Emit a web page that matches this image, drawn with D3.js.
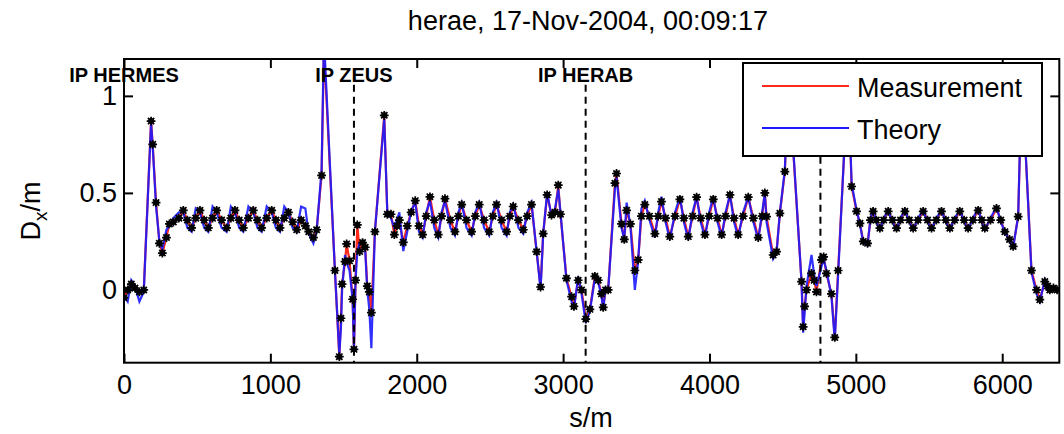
<!DOCTYPE html>
<html>
<head>
<meta charset="utf-8">
<script src="https://cdn.jsdelivr.net/npm/d3@7"></script>
<style>
  html, body { margin: 0; padding: 0; background: #fff; }
  svg { display: block; }
  text { font-family: "Liberation Sans", Arial, Helvetica, sans-serif; fill: #000; }
</style>
</head>
<body>
<svg id="chart" width="1064" height="434"></svg>
<script>
// ---------------- data ----------------
const titleText = "herae, 17-Nov-2004, 00:09:17";
const xTicks = [0, 1000, 2000, 3000, 4000, 5000, 6000];
const yTicks = [0, 0.5, 1];
const yTickLabels = ["0", "0.5", "1"];
const seriesNames = ["Measurement", "Theory"];
const ipNames = ["IP HERMES", "IP ZEUS", "IP HERAB"];
const ipLabelPos = [0, 1571, 3154];
const ipDashed = [1571, 3154, 4758];

const sPos = [
  0, 25, 50, 75, 105, 135,
  185, 196, 219, 242, 262, 290, 310, 337,
  375, 405, 433, 462, 490, 519, 548, 576, 605, 633, 667, 701, 730, 758, 787, 815, 850, 883, 912, 940, 975, 1009, 1038, 1066, 1095, 1123, 1152, 1180, 1210, 1239, 1262, 1294, 1316,
  1350, 1366, 1441, 1471, 1482, 1490, 1510, 1521, 1541, 1562, 1571, 1582, 1594, 1610, 1630, 1648, 1662, 1676, 1690, 1714, 1778,
  1799, 1824, 1847, 1865, 1881, 1908, 1935, 1962, 1990, 2015, 2040, 2065, 2090, 2120, 2147, 2170, 2193, 2230, 2261, 2285, 2307, 2340, 2375, 2400, 2427, 2460, 2495, 2520, 2545, 2580, 2614, 2636, 2659, 2695, 2728, 2755, 2784,
  2819, 2846, 2864, 2891, 2921, 2945, 2967, 2982, 3023, 3058, 3074, 3103, 3126, 3155, 3183, 3217, 3240, 3262, 3274, 3290, 3308, 3354, 3365,
  3399, 3418, 3434, 3460, 3490, 3513, 3535, 3558, 3590, 3627, 3650, 3672, 3700, 3729, 3765, 3798, 3825, 3855, 3885, 3912, 3940, 3969, 3998, 4026, 4055, 4083, 4110, 4140, 4168, 4196, 4230, 4265, 4300, 4333, 4360, 4378, 4390, 4435, 4458, 4481, 4515, 4540,
  4629, 4640, 4650, 4663, 4697, 4715, 4731, 4765, 4780, 4799, 4833, 4856, 4879, 4947, 4971, 5005, 5028, 5051, 5080,
  5100, 5118, 5140, 5164, 5190, 5221, 5250, 5278, 5305, 5335, 5365, 5392, 5425, 5460, 5490, 5517, 5550, 5585, 5615, 5642, 5675, 5710, 5740, 5767, 5800, 5836, 5860, 5881, 5920, 5961, 5990, 6018, 6050, 6075, 6109, 6134,
  6200, 6235, 6257, 6291, 6310, 6325, 6350, 6375
];

const measured = [
  -0.04, 0.00, 0.03, 0.01, -0.01, 0.00,
  0.87, 0.75, 0.45, 0.24, 0.19, 0.27, 0.34, 0.35,
  0.37, 0.41, 0.36, 0.32, 0.37, 0.41, 0.36, 0.32, 0.37, 0.41, 0.36, 0.32, 0.37, 0.41, 0.36, 0.32, 0.37, 0.41, 0.36, 0.32, 0.37, 0.41, 0.36, 0.32, 0.37, 0.40, 0.35, 0.31, 0.36, 0.33, 0.30, 0.27, 0.31,
  0.59, 1.25, 0.10, -0.344, -0.146, 0.03, 0.146, 0.237, 0.15, -0.048, -0.306, 0.05, 0.335, 0.198, 0.244, 0.22, 0.02, -0.01, -0.117, 0.30, 0.90,
  0.39, 0.39, 0.285, 0.33, 0.36, 0.245, 0.33, 0.40, 0.46, 0.33, 0.285, 0.38, 0.48, 0.36, 0.285, 0.38, 0.47, 0.36, 0.30, 0.38, 0.44, 0.36, 0.30, 0.38, 0.44, 0.36, 0.30, 0.38, 0.44, 0.36, 0.30, 0.38, 0.43, 0.36, 0.31, 0.38, 0.44,
  0.197, 0.015, 0.29, 0.49, 0.386, 0.40, 0.54, 0.39, 0.06, -0.035, -0.085, 0.05, 0.00, -0.15, -0.10, 0.07, 0.05, -0.02, -0.09, 0.00, 0.00, 0.55, 0.60,
  0.34, 0.26, 0.41, 0.34, 0.10, 0.155, 0.38, 0.44, 0.38, 0.29, 0.38, 0.455, 0.37, 0.275, 0.38, 0.467, 0.37, 0.275, 0.38, 0.478, 0.37, 0.285, 0.38, 0.467, 0.37, 0.285, 0.38, 0.49, 0.37, 0.285, 0.38, 0.478, 0.37, 0.27, 0.38, 0.50, 0.378, 0.18, 0.197, 0.395, 0.61, 1.10,
  0.043, -0.19, -0.085, 0.00, 0.085, 0.05, -0.01, 0.155, 0.17, 0.085, -0.02, -0.245, 0.10, 1.10, 0.533, 0.405, 0.343, 0.25, 0.24,
  0.36, 0.405, 0.36, 0.318, 0.36, 0.405, 0.36, 0.318, 0.36, 0.405, 0.36, 0.318, 0.36, 0.405, 0.36, 0.318, 0.36, 0.405, 0.36, 0.318, 0.36, 0.405, 0.36, 0.318, 0.36, 0.41, 0.36, 0.318, 0.36, 0.42, 0.36, 0.30, 0.26, 0.224, 0.378, 1.10,
  0.10, 0.00, -0.05, 0.043, 0.02, 0.00, 0.01, 0.00
];

const theory = [
  -0.03, -0.06, 0.05, 0.02, -0.06, -0.01,
  0.86, 0.74, 0.43, 0.25, 0.21, 0.31, 0.33, 0.37,
  0.40, 0.40, 0.32, 0.30, 0.42, 0.40, 0.32, 0.30, 0.43, 0.40, 0.32, 0.30, 0.43, 0.40, 0.32, 0.30, 0.43, 0.40, 0.32, 0.30, 0.43, 0.40, 0.32, 0.30, 0.43, 0.40, 0.32, 0.30, 0.43, 0.42, 0.29, 0.24, 0.30,
  0.62, 1.30, 0.10, -0.33, -0.20, 0.00, 0.18, 0.14, 0.10, -0.05, -0.30, 0.05, 0.20, 0.24, 0.25, 0.20, 0.00, -0.10, -0.30, 0.30, 0.88,
  0.40, 0.37, 0.32, 0.36, 0.40, 0.20, 0.30, 0.41, 0.45, 0.30, 0.27, 0.40, 0.46, 0.32, 0.27, 0.40, 0.46, 0.32, 0.28, 0.40, 0.45, 0.32, 0.28, 0.40, 0.45, 0.32, 0.28, 0.40, 0.45, 0.32, 0.28, 0.40, 0.44, 0.32, 0.29, 0.40, 0.45,
  0.20, 0.00, 0.29, 0.50, 0.38, 0.42, 0.52, 0.40, 0.05, -0.06, -0.10, 0.07, -0.02, -0.17, -0.11, 0.06, 0.04, -0.03, -0.10, 0.01, 0.00, 0.52, 0.58,
  0.32, 0.26, 0.45, 0.33, 0.00, 0.15, 0.42, 0.46, 0.36, 0.27, 0.40, 0.48, 0.35, 0.26, 0.40, 0.48, 0.35, 0.26, 0.40, 0.48, 0.35, 0.27, 0.40, 0.48, 0.35, 0.27, 0.40, 0.49, 0.35, 0.27, 0.40, 0.48, 0.35, 0.26, 0.40, 0.50, 0.35, 0.16, 0.19, 0.40, 0.62, 1.12,
  0.04, -0.22, -0.12, 0.02, 0.18, 0.08, 0.02, 0.12, 0.16, 0.10, -0.03, -0.26, 0.08, 1.12, 0.55, 0.41, 0.34, 0.24, 0.23,
  0.37, 0.41, 0.35, 0.31, 0.37, 0.41, 0.35, 0.31, 0.37, 0.41, 0.35, 0.31, 0.37, 0.41, 0.35, 0.31, 0.37, 0.41, 0.35, 0.31, 0.37, 0.41, 0.35, 0.31, 0.37, 0.42, 0.35, 0.31, 0.37, 0.43, 0.35, 0.30, 0.25, 0.22, 0.38, 1.12,
  0.09, -0.02, -0.06, 0.05, 0.00, 0.02, 0.00, 0.00
];

// ---------------- layout ----------------
const FONT = 27;
const svg = d3.select("#chart");
const L = 124, R = 1059.3, T = 59, B = 362.7;

const x = d3.scaleLinear().domain([0, 6390]).range([L, R]);
const y = d3.scaleLinear().domain([-0.375, 1.19]).range([B, T]);

svg.append("defs").append("clipPath").attr("id", "plotclip")
  .append("rect").attr("x", L).attr("y", T).attr("width", R - L).attr("height", B - T);

// title
svg.append("text").attr("x", 588).attr("y", 30).attr("text-anchor", "middle")
  .style("font-size", FONT + "px").text(titleText);

// axes
const gx = svg.append("g").attr("transform", `translate(0,${B})`)
  .call(d3.axisBottom(x).tickValues(xTicks).tickSizeInner(-9).tickSizeOuter(0).tickPadding(12).tickFormat(d3.format("d")));
const gxt = svg.append("g").attr("transform", `translate(0,${T})`)
  .call(d3.axisTop(x).tickValues(xTicks).tickSizeInner(-9).tickSizeOuter(0).tickFormat(""));
const gy = svg.append("g").attr("transform", `translate(${L},0)`)
  .call(d3.axisLeft(y).tickValues(yTicks).tickSizeInner(-9).tickSizeOuter(0).tickPadding(7)
    .tickFormat((d, i) => yTickLabels[i]));
const gyr = svg.append("g").attr("transform", `translate(${R},0)`)
  .call(d3.axisRight(y).tickValues(yTicks).tickSizeInner(-9).tickSizeOuter(0).tickFormat(""));
[gx, gxt, gy, gyr].forEach(g => {
  g.select(".domain").remove();
  g.selectAll(".tick line").attr("stroke", "#000").attr("stroke-width", 2);
  g.selectAll(".tick text").style("font-size", FONT + "px")
    .style("font-family", '"Liberation Sans", Arial, sans-serif').attr("fill", "#000");
});

// data lines
const plot = svg.append("g").attr("clip-path", "url(#plotclip)");
const idx = d3.range(sPos.length);
const lineM = d3.line().x(i => x(sPos[i])).y(i => y(measured[i]));
const lineT = d3.line().x(i => x(sPos[i])).y(i => y(theory[i]));

plot.append("path").datum(idx).attr("d", lineM)
  .attr("fill", "none").attr("stroke", "#ff2a1a").attr("stroke-width", 2.2);
plot.append("path").datum(idx).attr("d", lineT)
  .attr("fill", "none").attr("stroke", "#1a1aff").attr("stroke-width", 2.2).attr("stroke-opacity", 0.9);

// asterisk markers
const r = 4.4, rd = r * 0.72;
const starPath = `M${-r},0L${r},0M0,${-r}L0,${r}M${-rd},${-rd}L${rd},${rd}M${-rd},${rd}L${rd},${-rd}`;
const mk = plot.append("g");
idx.forEach(i => {
  const g = mk.append("g").attr("transform", `translate(${x(sPos[i])},${y(measured[i])})`);
  g.append("circle").attr("r", 3).attr("fill", "#000");
  g.append("path").attr("d", starPath).attr("stroke", "#000").attr("stroke-width", 1.7);
});

// IP dashed lines
ipDashed.forEach(s => {
  svg.append("line").attr("x1", x(s)).attr("x2", x(s)).attr("y1", y(1.057)).attr("y2", B)
    .attr("stroke", "#000").attr("stroke-width", 2).attr("stroke-dasharray", "7,5");
});

// box
svg.append("rect").attr("x", L).attr("y", T).attr("width", R - L).attr("height", B - T)
  .attr("fill", "none").attr("stroke", "#000").attr("stroke-width", 2);

// IP labels
ipNames.forEach((n, i) => {
  svg.append("text").attr("x", x(ipLabelPos[i])).attr("y", 81.5).attr("text-anchor", "middle")
    .style("font-size", "20px").style("font-weight", "bold").attr("fill", "#222").text(n);
});

// axis labels
svg.append("text").attr("x", 591).attr("y", 427).attr("text-anchor", "middle")
  .style("font-size", FONT + "px").text("s/m");
const yl = svg.append("text").attr("transform", "translate(40,211) rotate(-90)")
  .attr("text-anchor", "middle").style("font-size", FONT + "px");
yl.append("tspan").text("D");
yl.append("tspan").attr("dy", 7).style("font-size", "19px").text("x");
yl.append("tspan").attr("dy", -7).text("/m");

// legend
const lg = svg.append("g");
lg.append("rect").attr("x", 743).attr("y", 63).attr("width", 299).attr("height", 93)
  .attr("fill", "#fff").attr("stroke", "#000").attr("stroke-width", 2);
const legColors = ["#ff2a1a", "#1a1aff"];
const legY = [86, 128];
seriesNames.forEach((n, i) => {
  lg.append("line").attr("x1", 762).attr("x2", 849).attr("y1", legY[i]).attr("y2", legY[i])
    .attr("stroke", legColors[i]).attr("stroke-width", 2);
  lg.append("text").attr("x", 857).attr("y", legY[i] + 11).style("font-size", FONT + "px").text(n);
});
</script>
</body>
</html>
